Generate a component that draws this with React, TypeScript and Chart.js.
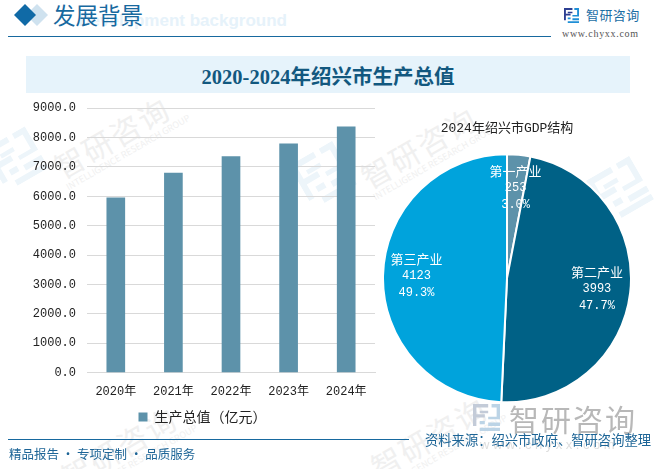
import React, { useEffect, useRef } from "react";
import { Chart, registerables } from "chart.js";

Chart.register(...registerables);

const years = ["2020年", "2021年", "2022年", "2023年", "2024年"];
const gdpValues = [5950, 6795, 7351, 7791, 8369];
const sectors = ["第一产业", "第二产业", "第三产业"];
const sectorValues = [253, 3993, 4123];
const sectorShares = ["3.0%", "47.7%", "49.3%"];
const sectorColors = ["#5d92aa", "#006186", "#00a3dc"];

const BAR_COLOR = "#5d92aa";
const CHART_FONT = "'Liberation Mono', 'Noto Sans CJK SC', monospace";
const SERIF_FONT = "'Liberation Serif', 'Noto Sans CJK SC', serif";
const SANS_FONT = "'Noto Sans CJK SC', sans-serif";

// labels inside the pie slices: name, value, share on three lines
const sliceLabels = {
    id: "sliceLabels",
    afterDatasetsDraw(chart: Chart) {
        const { ctx } = chart;
        chart.getDatasetMeta(0).data.forEach((arc: any, i: number) => {
            const mid = (arc.startAngle + arc.endAngle) / 2;
            const x = arc.x + Math.cos(mid) * arc.outerRadius * 0.73;
            const y = arc.y + Math.sin(mid) * arc.outerRadius * 0.73;
            ctx.save();
            ctx.fillStyle = "#fff";
            ctx.textAlign = "center";
            ctx.textBaseline = "middle";
            ctx.font = `13px 'Noto Sans CJK SC'`;
            ctx.fillText(sectors[i], x, y - 17);
            ctx.font = `12px ${CHART_FONT}`;
            ctx.fillText(String(sectorValues[i]), x, y);
            ctx.fillText(sectorShares[i], x, y + 17);
            ctx.restore();
        });
    },
};

function Logo({ x, y, size, c1, c2, rotate = 0 }: { x: number; y: number; size: number; c1: string; c2: string; rotate?: number }) {
    return (
        <svg
            width={size}
            height={size}
            viewBox="0 0 16 16"
            style={{ position: "absolute", left: x, top: y, transform: `rotate(${rotate}deg)` }}
        >
            <path d="M0 0H9V2H2V6H7V8H2V13H0Z M4 4H9V5.5H4Z" fill={c1} />
            <path d="M11 0H16V9H9V7.5H14V2H11Z" fill={c2} />
            <path d="M4 10H7V12H4Z M4 14H16V16H4Z M9 11H16V13H9Z" fill={c2} />
        </svg>
    );
}

function Watermark({ x, y }: { x: number; y: number }) {
    return (
        <div
            style={{
                position: "absolute",
                left: x,
                top: y,
                transform: "rotate(-30deg)",
                transformOrigin: "0 0",
                color: "#f0f0f0",
                fontFamily: SANS_FONT,
                whiteSpace: "nowrap",
            }}
        >
            <div style={{ fontSize: 30, lineHeight: "32px", letterSpacing: 2 }}>智研咨询</div>
            <div style={{ fontSize: 9, lineHeight: "11px" }}>INTELLIGENCE RESEARCH GROUP</div>
        </div>
    );
}

export default function App() {
    const barRef = useRef<HTMLCanvasElement | null>(null);
    const pieRef = useRef<HTMLCanvasElement | null>(null);

    useEffect(() => {
        if (!barRef.current || !pieRef.current) return;

        const bar = new Chart(barRef.current, {
            type: "bar",
            data: {
                labels: years,
                datasets: [
                    {
                        label: "生产总值（亿元）",
                        data: gdpValues,
                        backgroundColor: BAR_COLOR,
                        barThickness: 18,
                    },
                ],
            },
            options: {
                animation: false,
                responsive: false,
                layout: { padding: { top: 6, right: 5, bottom: 2, left: 0 } },
                plugins: {
                    tooltip: { enabled: false },
                    legend: {
                        position: "bottom",
                        labels: {
                            boxWidth: 9,
                            boxHeight: 9,
                            color: "#222",
                            padding: 7,
                            font: { family: SANS_FONT, size: 14 },
                        },
                    },
                },
                scales: {
                    x: {
                        grid: { display: false },
                        border: { color: "#d9d9d9", width: 1 },
                        ticks: {
                            color: "#222",
                            padding: 4,
                            maxRotation: 0,
                            font: { family: CHART_FONT, size: 12 },
                        },
                    },
                    y: {
                        min: 0,
                        max: 9000,
                        afterFit: (scale: any) => {
                            scale.width = 57;
                        },
                        grid: { color: "#d9d9d9", lineWidth: 1, drawTicks: false },
                        border: { display: false },
                        ticks: {
                            stepSize: 1000,
                            color: "#222",
                            padding: 11,
                            font: { family: CHART_FONT, size: 12 },
                            callback: (v) => Number(v).toFixed(1),
                        },
                    },
                },
            },
        });

        const pie = new Chart(pieRef.current, {
            type: "pie",
            data: {
                labels: sectors,
                datasets: [
                    {
                        data: sectorValues,
                        backgroundColor: sectorColors,
                        borderColor: "#fff",
                        borderWidth: 2,
                    },
                ],
            },
            options: {
                animation: false,
                responsive: false,
                layout: { padding: 0 },
                plugins: {
                    tooltip: { enabled: false },
                    legend: { display: false },
                    title: {
                        display: true,
                        text: "2024年绍兴市GDP结构",
                        color: "#222",
                        padding: { top: 0, bottom: 15 },
                        font: { family: CHART_FONT, size: 13, weight: "normal" },
                    },
                },
            },
            plugins: [sliceLabels],
        });

        return () => {
            bar.destroy();
            pie.destroy();
        };
    }, []);

    return (
        <div
            style={{
                position: "absolute",
                left: 0,
                top: 0,
                width: 656,
                height: 469,
                overflow: "hidden",
                background: "#fff",
            }}
        >
            <Watermark x={48} y={155} />
            <Watermark x={355} y={165} />
            <Watermark x={55} y={465} />
            <Watermark x={365} y={455} />
            <Logo x={-8} y={135} size={48} c1="#edf5fa" c2="#edf5fa" rotate={-30} />
            <Logo x={298} y={150} size={50} c1="#edf5fa" c2="#edf5fa" rotate={-30} />
            <Logo x={595} y={165} size={50} c1="#edf5fa" c2="#edf5fa" rotate={-30} />

            {/* header */}
            <div style={{ position: "absolute", left: 27, top: 5, width: 20, height: 20, background: "#cfe2ef", transform: "rotate(45deg) scale(0.78)" }} />
            <div style={{ position: "absolute", left: 15, top: 5, width: 20, height: 20, background: "#106aa6", transform: "rotate(45deg) scale(0.78)" }} />
            <div style={{ position: "absolute", right: 369, top: 9, fontFamily: "'Liberation Sans', sans-serif", fontWeight: 700, fontSize: 17, lineHeight: "24px", color: "#e6f2fa", whiteSpace: "nowrap" }}>
                Development background
            </div>
            <div style={{ position: "absolute", left: 53, top: -1, fontFamily: SANS_FONT, fontSize: 22.5, lineHeight: "30px", color: "#17699f", whiteSpace: "nowrap" }}>
                发展背景
            </div>
            <div style={{ position: "absolute", left: 8, top: 36, width: 543, height: 1, background: "#17699f" }} />
            <Logo x={564} y={8} size={15} c1="#2d3f92" c2="#1f8fd6" />
            <div style={{ position: "absolute", left: 586, top: 5, fontFamily: SANS_FONT, fontSize: 13, lineHeight: "20px", letterSpacing: 0.4, color: "#1c6ea4", whiteSpace: "nowrap" }}>
                智研咨询
            </div>
            <div style={{ position: "absolute", left: 562, top: 27, fontFamily: "'Liberation Serif', serif", fontSize: 10, lineHeight: "14px", letterSpacing: 0.7, color: "#555", whiteSpace: "nowrap" }}>
                www.chyxx.com
            </div>

            {/* title band */}
            <div
                style={{
                    position: "absolute",
                    left: 26,
                    top: 56,
                    width: 604,
                    height: 37,
                    background: "#e6f3fb",
                    textAlign: "center",
                    fontFamily: SERIF_FONT,
                    fontWeight: 700,
                    fontSize: 20.5,
                    lineHeight: "42px",
                    color: "#12587f",
                }}
            >
                2020-2024年绍兴市生产总值
            </div>

            <canvas ref={barRef} width={350} height={346} style={{ position: "absolute", left: 30, top: 90 }} />
            <canvas ref={pieRef} width={250} height={284} style={{ position: "absolute", left: 382, top: 121 }} />

            {/* footer */}
            <Logo x={473} y={404} size={27} c1="#c3cbd8" c2="#bcd4e6" />
            <div style={{ position: "absolute", left: 509, top: 399, fontFamily: SANS_FONT, fontSize: 30, lineHeight: "38px", letterSpacing: 2, color: "#b8b8b8", whiteSpace: "nowrap" }}>
                智研咨询
            </div>
            <div style={{ position: "absolute", left: 480, top: 437, fontFamily: "'Liberation Sans', sans-serif", fontSize: 13, lineHeight: "16px", letterSpacing: 3.5, color: "#dedede", whiteSpace: "nowrap" }}>
                www.chyxx.com
            </div>
            <div style={{ position: "absolute", left: 8, top: 439, width: 401, height: 1, background: "#17699f" }} />
            <div style={{ position: "absolute", left: 9, top: 444, fontFamily: SANS_FONT, fontSize: 12.5, lineHeight: "20px", color: "#1c6496", whiteSpace: "nowrap" }}>
                精品报告 · 专项定制 · 品质服务
            </div>
            <div style={{ position: "absolute", left: 425, top: 430, fontFamily: SANS_FONT, fontSize: 13.3, lineHeight: "20px", color: "#1c6496", whiteSpace: "nowrap" }}>
                资料来源：绍兴市政府、智研咨询整理
            </div>
        </div>
    );
}
